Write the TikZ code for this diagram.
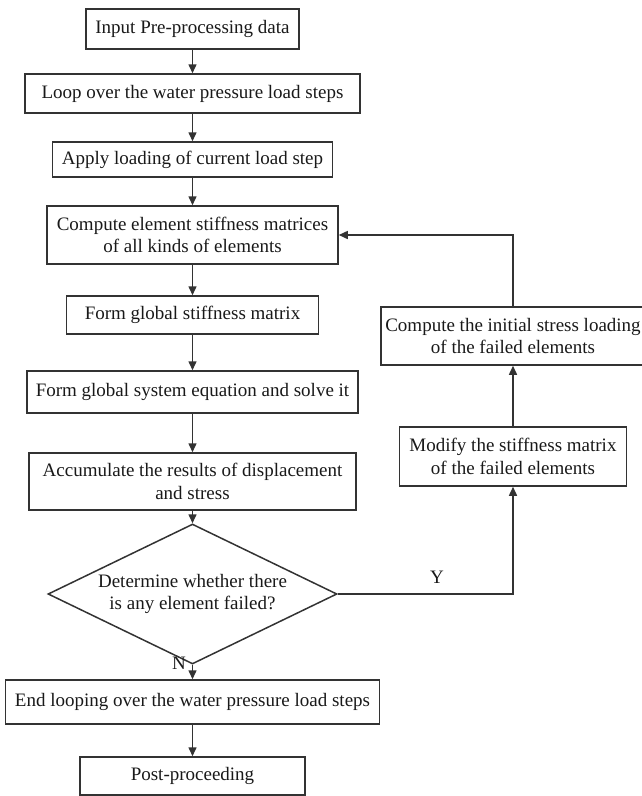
\documentclass[tikz,border=0pt]{standalone}
\usepackage{fontspec}
\setmainfont{Liberation Serif}
\usetikzlibrary{arrows.meta,shapes.geometric}

\begin{document}
\begin{tikzpicture}[x=1pt,y=-1pt,
    box/.style={draw=black!80,line width=1.5pt,text=black!90,align=center,inner sep=0pt,
      font=\fontsize{19}{22.7}\selectfont},
    decision/.style={box,diamond},
    tag/.style={text=black!90,inner sep=0pt,font=\fontsize{19}{22.7}\selectfont},
    link/.style={draw=black!80,line width=1.5pt,-{Triangle[length=9pt,width=8pt]}}]
  \useasboundingbox (0,0) rectangle (641,796);
  \node[box,minimum width=213pt,minimum height=40pt] (input) at (192.5,29) {Input Pre-processing data};
  \node[box,minimum width=335pt,minimum height=39pt] (loop) at (192.5,93.5) {Loop over the water pressure load steps};
  \node[box,minimum width=280pt,minimum height=35pt] (apply) at (192.5,159.5) {Apply loading of current load step};
  \node[box,minimum width=291pt,minimum height=58pt] (compute) at (192.5,235) {Compute element stiffness matrices\\of all kinds of elements};
  \node[box,minimum width=252pt,minimum height=38pt] (global) at (192.5,315) {Form global stiffness matrix};
  \node[box,minimum width=331pt,minimum height=42pt] (solve) at (192.5,392) {Form global system equation and solve it};
  \node[box,minimum width=327pt,minimum height=57pt] (accum) at (192.5,481.5) {Accumulate the results of displacement\\and stress};
  \node[decision,minimum width=289pt,minimum height=96pt] (check) at (192.5,594)
    {\makebox[100pt]{Determine whether there}\\\makebox[100pt]{is any element failed?}};
  \node[box,minimum width=374pt,minimum height=44pt] (endloop) at (192.5,702) {End looping over the water pressure load steps};
  \node[box,minimum width=225pt,minimum height=38pt] (post) at (192.5,776) {Post-proceeding};
  \node[box,minimum width=264pt,minimum height=58pt] (initial) at (513,336) {Compute the initial stress loading\\of the failed elements};
  \node[box,minimum width=227pt,minimum height=59pt] (modify) at (513,456.5) {Modify the stiffness matrix\\of the failed elements};
  \node[tag] (ylab) at (437,577) {Y};
  \node[tag] (nlab) at (179,663) {N};

  \draw[link] (input) -- (loop);
  \draw[link] (loop) -- (apply);
  \draw[link] (apply) -- (compute);
  \draw[link] (compute) -- (global);
  \draw[link] (global) -- (solve);
  \draw[link] (solve) -- (accum);
  \draw[link] (accum) -- (check);
  \draw[link] (check) -- (endloop);
  \draw[link] (endloop) -- (post);
  \draw[link] (check.east) -- (modify.south |- check.east) -- (modify.south);
  \draw[link] (modify) -- (initial);
  \draw[link] (initial.north) -- (initial.north |- compute.east) -- (compute.east);
\end{tikzpicture}
\end{document}
